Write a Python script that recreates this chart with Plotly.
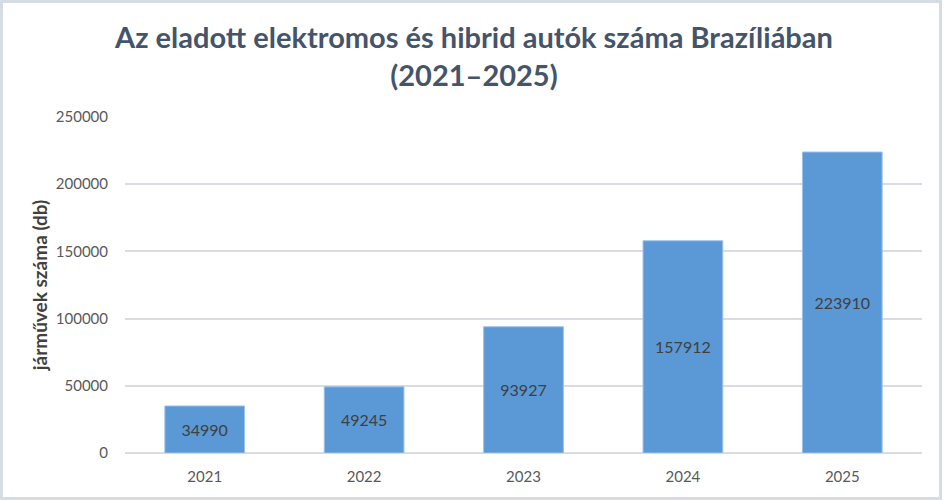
import plotly.graph_objects as go

years = ["2021", "2022", "2023", "2024", "2025"]
sales = [34990, 49245, 93927, 157912, 223910]
y_ticks = [0, 50000, 100000, 150000, 200000, 250000]

title_text = "Az eladott elektromos és hibrid autók száma Brazíliában<br>(2021–2025)"
y_title = "járművek száma (db)"

W, H = 945, 500
L, R, T, B = 125, 23, 117, 47

fig = go.Figure()
fig.add_trace(go.Bar(
    x=years, y=sales,
    text=[str(v) for v in sales],
    textposition="inside",
    insidetextanchor="middle",
    textfont=dict(family="Lato", size=16, color="#404040"),
    marker=dict(color="#5A98D6", line=dict(color="#9DC0E8", width=1)),
    hoverinfo="x+y",
))

pw = W - L - R
ph = H - T - B
def px_x(p):
    return (p - L) / pw
def px_y(p):
    return (H - B - p) / ph

fig.add_shape(type="rect", xref="paper", yref="paper",
              x0=px_x(1.5), x1=px_x(W - 4.5), y0=px_y(1.5), y1=px_y(H - 1.5),
              line=dict(color="#D6DCE4", width=3), layer="below")

fig.update_layout(
    width=W, height=H,
    margin=dict(l=L, r=R, t=T, b=B),
    paper_bgcolor="white", plot_bgcolor="white",
    bargap=0.5,
    showlegend=False,
    title=dict(text=title_text, x=474 / W, xref="container", xanchor="center",
               y=(H - 48) / H, yref="container", yanchor="middle",
               font=dict(family="Lato", size=29, color="#44546A", weight="bold")),
    xaxis=dict(tickfont=dict(family="Lato", size=15, color="#595959"),
               showline=False, showgrid=False, ticks="", ticklabelstandoff=13),
    yaxis=dict(range=[0, 250000], tickvals=y_ticks, ticktext=[str(v) for v in y_ticks],
               tickfont=dict(family="Lato", size=15, color="#595959"),
               showgrid=True, gridcolor="#D9DDE3", gridwidth=1.5,
               zeroline=True, zerolinecolor="#D9DDE3", zerolinewidth=1.5,
               ticks="", ticklabelstandoff=16,
               title=dict(text=y_title, standoff=3,
                          font=dict(family="Lato", size=19, color="#404040", weight="bold"))),
)

fig.write_html("out.html")
